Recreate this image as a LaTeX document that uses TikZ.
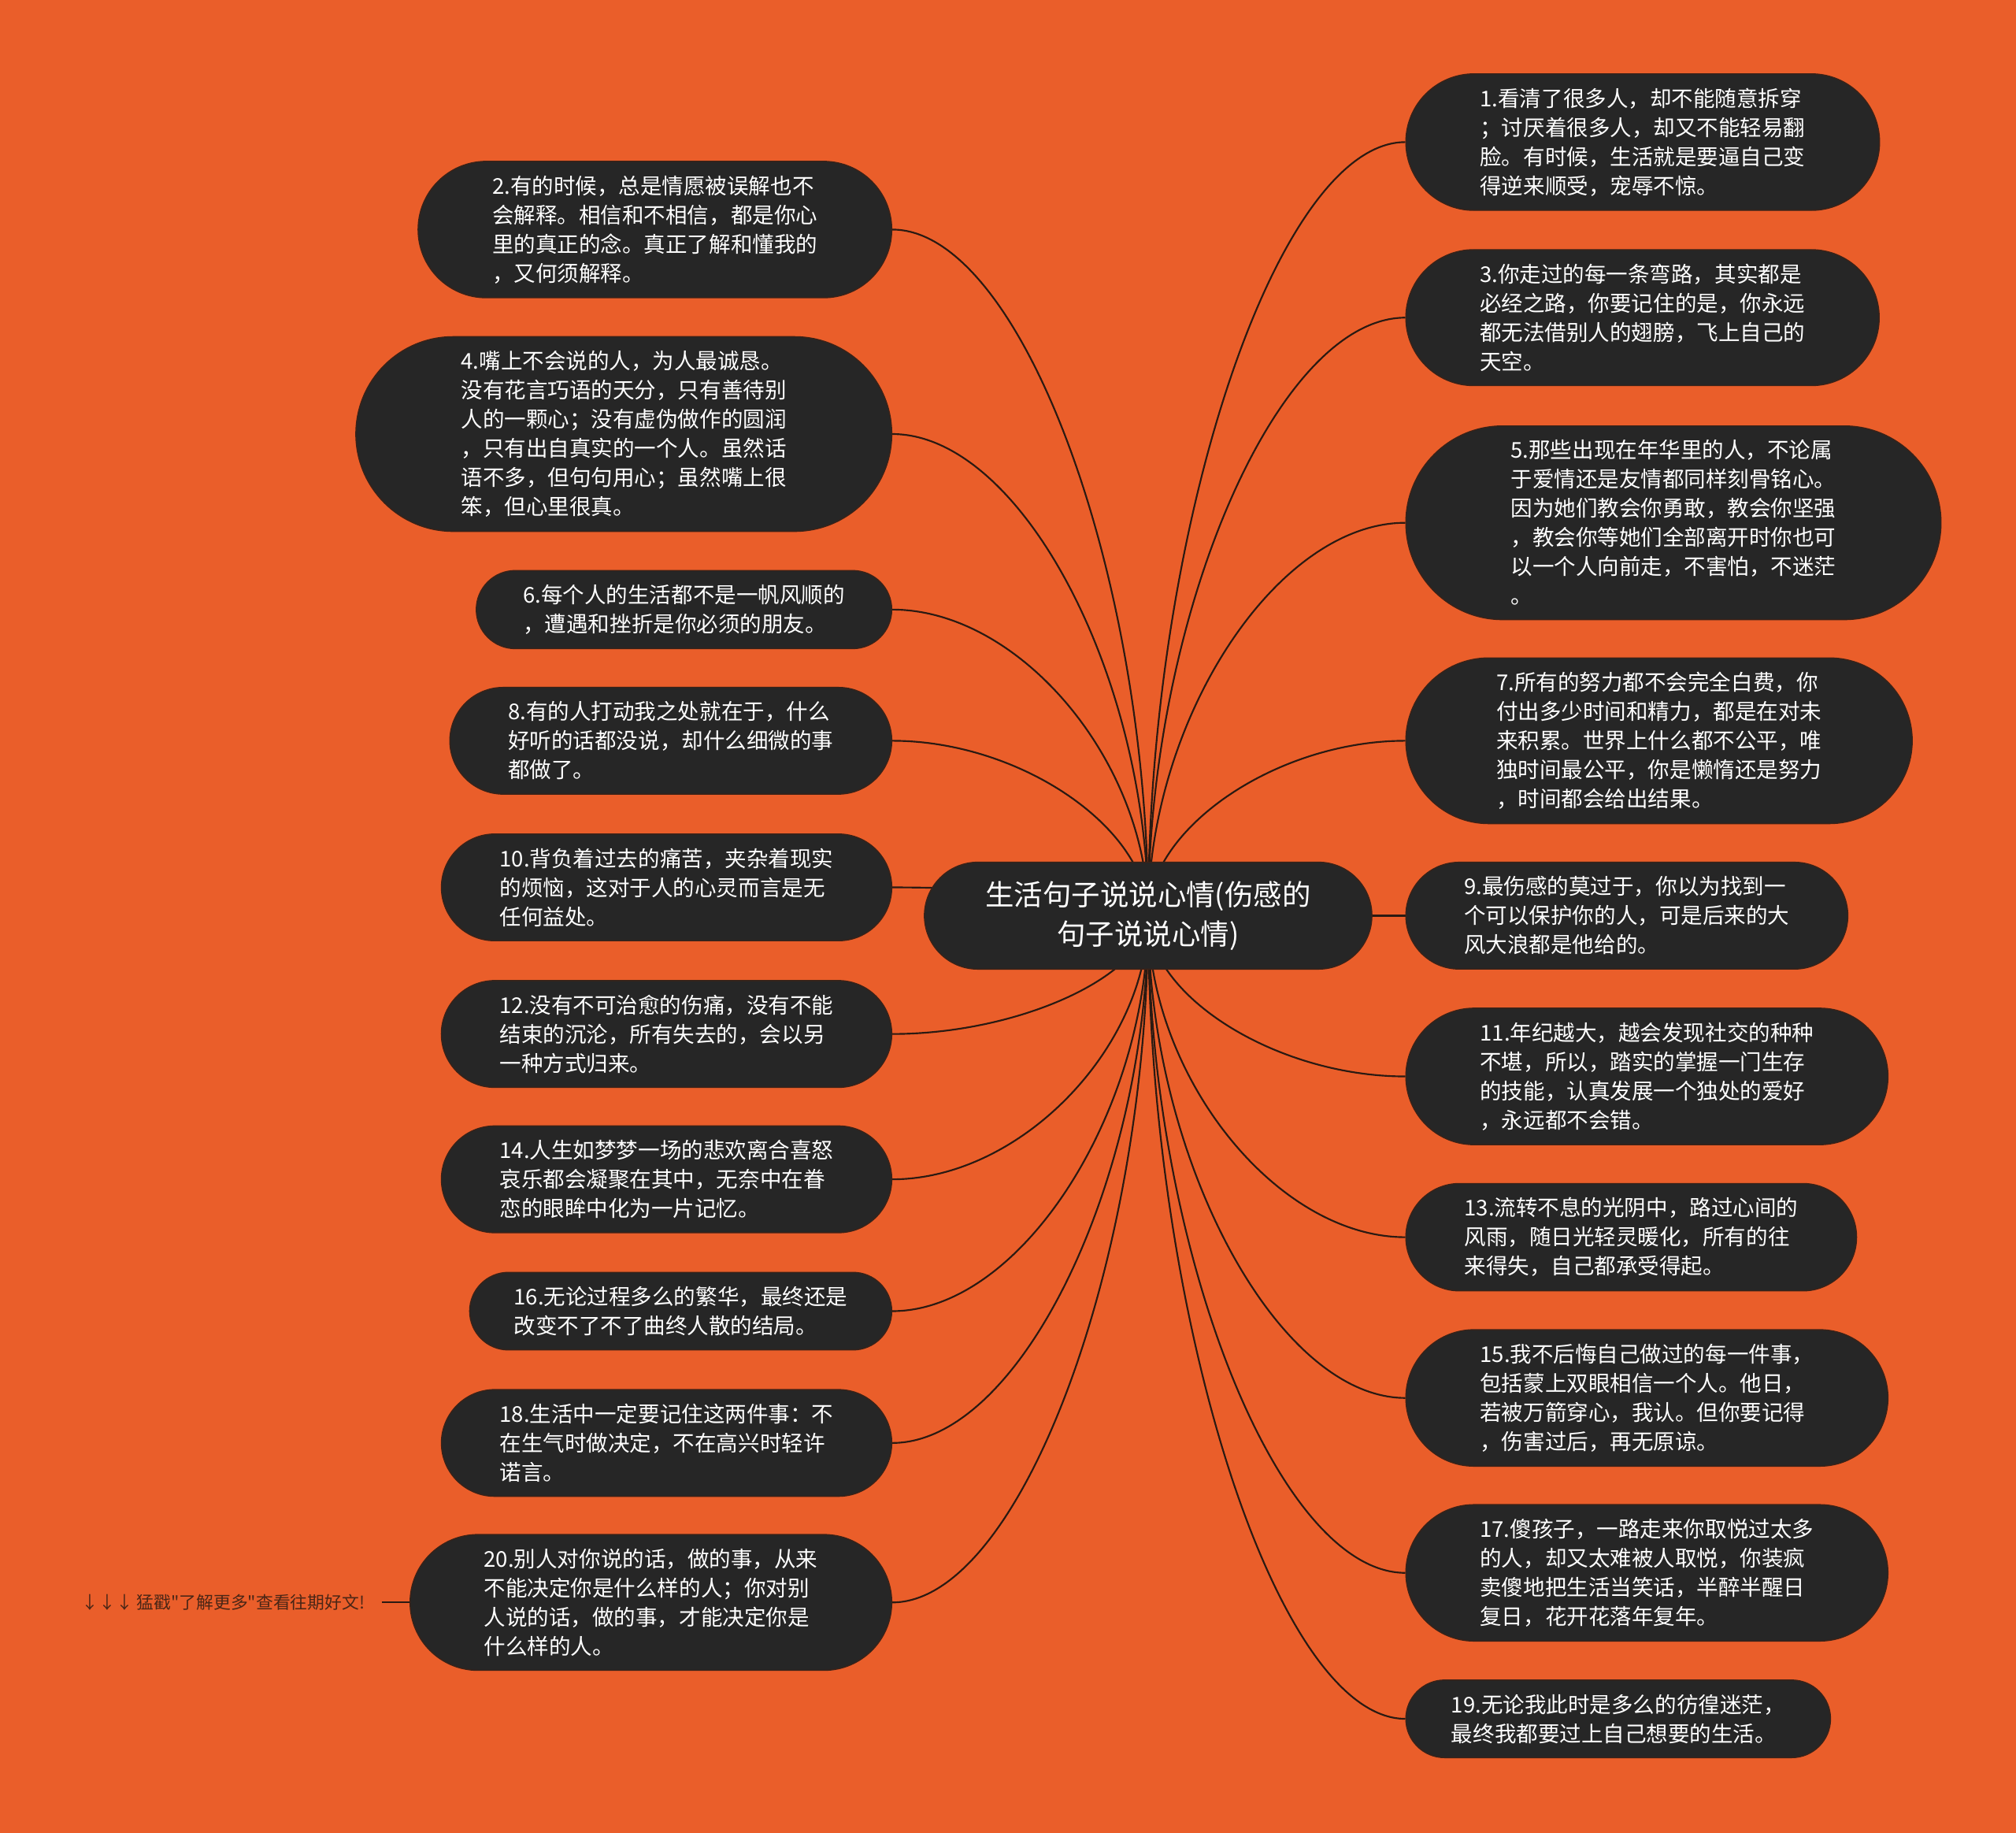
\documentclass[tikz,border=0pt]{standalone}
\usepackage{fontspec}
\setmainfont{Noto Sans CJK SC}[Ligatures=TeXOff]
\usetikzlibrary{shapes.misc,calc}
\definecolor{sheetbg}{HTML}{EA5E2A}
\definecolor{pillfill}{HTML}{262626}
\definecolor{pillrim}{HTML}{3A2218}
\definecolor{wire}{HTML}{2B1A12}
\definecolor{notetext}{HTML}{4A2616}
\pgfdeclarelayer{sheet}
\pgfdeclarelayer{wires}
\pgfsetlayers{sheet,wires,main}
% curved link from the centre topic to a side anchor
\newcommand{\branch}[1]{%
  \draw[conn] let \p1=(hub.center), \p2=(#1) in
    (\p1) .. controls (\x1,{0.5*\y1+0.5*\y2}) and ({0.5*\x1+0.5*\x2},\y2) .. (\p2);}

\begin{document}
\begin{tikzpicture}[x=0.02cm,y=-0.02cm,
  leaf/.style={shape=rounded rectangle,fill=pillfill,draw=pillrim,line width=0.5pt,text=white,
    align=left,font=\fontsize{9.6}{12.9}\selectfont,inner xsep=#1,inner ysep=0.22cm},
  leaf/.default=0.74cm,
  hub/.style={leaf=0.75cm,align=center,font=\fontsize{12.7}{17.6}\selectfont,inner ysep=0.29cm},
  note/.style={text=notetext,font=\fontsize{7.6}{9}\selectfont,inner xsep=0.26cm},
  conn/.style={draw=wire,line width=0.75pt}]
\useasboundingbox (0,0) rectangle (1568,1425);
\begin{pgfonlayer}{sheet}
\fill[sheetbg] (0,0) rectangle (1568,1425);
\end{pgfonlayer}

\node[hub] (hub) at (893,712) {生活句子说说心情(伤感的\\句子说说心情)};

% right side
\node[leaf,anchor=west] (t1) at (1093,110.5) {1.看清了很多人，却不能随意拆穿\\；讨厌着很多人，却又不能轻易翻\\脸。有时候，生活就是要逼自己变\\得逆来顺受，宠辱不惊。};
\node[leaf,anchor=west] (t3) at (1093,247) {3.你走过的每一条弯路，其实都是\\必经之路，你要记住的是，你永远\\都无法借别人的翅膀，飞上自己的\\天空。};
\node[leaf=0.91cm,anchor=west] (t5) at (1093,406.5) {5.那些出现在年华里的人，不论属\\于爱情还是友情都同样刻骨铭心。\\因为她们教会你勇敢，教会你坚强\\，教会你等她们全部离开时你也可\\以一个人向前走，不害怕，不迷茫\\。};
\node[leaf=0.84cm,anchor=west] (t7) at (1093,576) {7.所有的努力都不会完全白费，你\\付出多少时间和精力，都是在对未\\来积累。世界上什么都不公平，唯\\独时间最公平，你是懒惰还是努力\\，时间都会给出结果。};
\node[leaf=0.64cm,anchor=west] (t9) at (1093,712) {9.最伤感的莫过于，你以为找到一\\个可以保护你的人，可是后来的大\\风大浪都是他给的。};
\node[leaf,anchor=west] (t11) at (1093,837) {11.年纪越大，越会发现社交的种种\\不堪，所以，踏实的掌握一门生存\\的技能，认真发展一个独处的爱好\\，永远都不会错。};
\node[leaf=0.64cm,anchor=west] (t13) at (1093,962) {13.流转不息的光阴中，路过心间的\\风雨，随日光轻灵暖化，所有的往\\来得失，自己都承受得起。};
\node[leaf,anchor=west] (t15) at (1093,1087) {15.我不后悔自己做过的每一件事，\\包括蒙上双眼相信一个人。他日，\\若被万箭穿心，我认。但你要记得\\，伤害过后，再无原谅。};
\node[leaf,anchor=west] (t17) at (1093,1223) {17.傻孩子，一路走来你取悦过太多\\的人，却又太难被人取悦，你装疯\\卖傻地把生活当笑话，半醉半醒日\\复日，花开花落年复年。};
\node[leaf=0.57cm,anchor=west] (t19) at (1093,1336.5) {19.无论我此时是多么的彷徨迷茫，\\最终我都要过上自己想要的生活。};

% left side
\node[leaf,anchor=east] (t2) at (694,178.5) {2.有的时候，总是情愿被误解也不\\会解释。相信和不相信，都是你心\\里的真正的念。真正了解和懂我的\\，又何须解释。};
\node[leaf=0.91cm,anchor=east] (t4) at (694,337.5) {4.嘴上不会说的人，为人最诚恳。\\没有花言巧语的天分，只有善待别\\人的一颗心；没有虚伪做作的圆润\\，只有出自真实的一个人。虽然话\\语不多，但句句用心；虽然嘴上很\\笨，但心里很真。};
\node[leaf=0.59cm,anchor=east] (t6) at (694,474) {6.每个人的生活都不是一帆风顺的\\，遭遇和挫折是你必须的朋友。};
\node[leaf=0.64cm,anchor=east] (t8) at (694,576) {8.有的人打动我之处就在于，什么\\好听的话都没说，却什么细微的事\\都做了。};
\node[leaf=0.64cm,anchor=east] (t10) at (694,690) {10.背负着过去的痛苦，夹杂着现实\\的烦恼，这对于人的心灵而言是无\\任何益处。};
\node[leaf=0.64cm,anchor=east] (t12) at (694,804) {12.没有不可治愈的伤痛，没有不能\\结束的沉沦，所有失去的，会以另\\一种方式归来。};
\node[leaf=0.64cm,anchor=east] (t14) at (694,917) {14.人生如梦梦一场的悲欢离合喜怒\\哀乐都会凝聚在其中，无奈中在眷\\恋的眼眸中化为一片记忆。};
\node[leaf=0.55cm,anchor=east] (t16) at (694,1019.5) {16.无论过程多么的繁华，最终还是\\改变不了不了曲终人散的结局。};
\node[leaf=0.64cm,anchor=east] (t18) at (694,1122) {18.生活中一定要记住这两件事：不\\在生气时做决定，不在高兴时轻许\\诺言。};
\node[leaf,anchor=east] (t20) at (694,1246) {20.别人对你说的话，做的事，从来\\不能决定你是什么样的人；你对别\\人说的话，做的事，才能决定你是\\什么样的人。};

\node[note,anchor=east] (more) at (297,1246) {↓↓↓ 猛戳"了解更多"查看往期好文!};

\begin{pgfonlayer}{wires}
\branch{t1.west}
\branch{t3.west}
\branch{t5.west}
\branch{t7.west}
\branch{t9.west}
\branch{t11.west}
\branch{t13.west}
\branch{t15.west}
\branch{t17.west}
\branch{t19.west}
\branch{t2.east}
\branch{t4.east}
\branch{t6.east}
\branch{t8.east}
\branch{t10.east}
\branch{t12.east}
\branch{t14.east}
\branch{t16.east}
\branch{t18.east}
\branch{t20.east}
\draw[conn] (more.east) -- (t20.west);
\end{pgfonlayer}
\end{tikzpicture}
\end{document}
